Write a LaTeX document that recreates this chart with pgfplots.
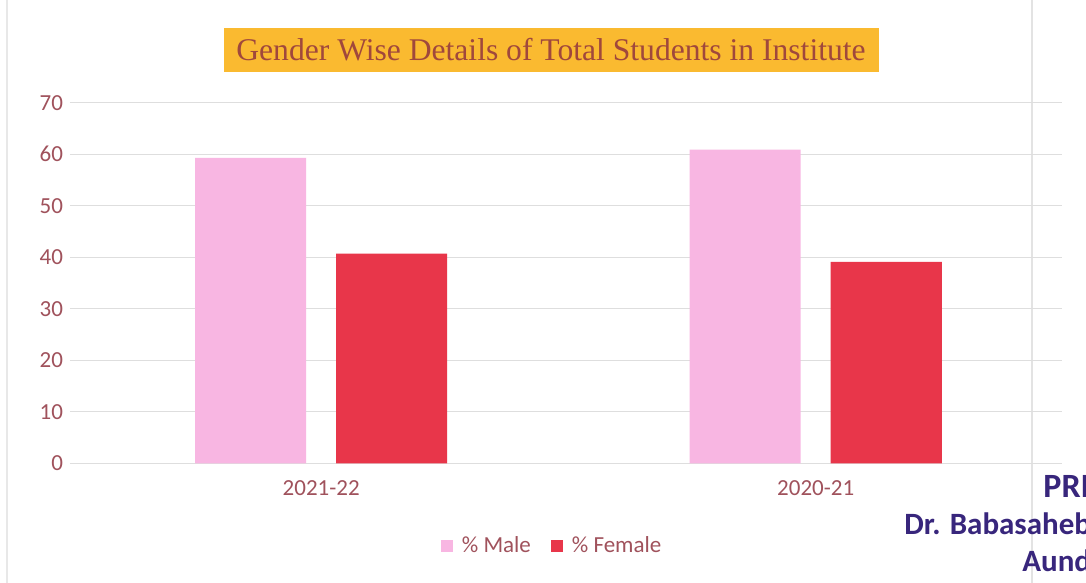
\documentclass[border=0pt]{standalone}
\usepackage{pgfplots}
\pgfplotsset{compat=1.18}
\usepackage{fontspec}
\setmainfont{Carlito}
\newfontfamily\titlefont{Liberation Serif}

\definecolor{malepink}{RGB}{248,182,226}
\definecolor{femalered}{RGB}{232,54,74}
\definecolor{ticktext}{RGB}{160,82,92}
\definecolor{titlebg}{RGB}{250,186,48}
\definecolor{titletext}{RGB}{160,72,60}
\definecolor{stamp}{RGB}{56,38,124}
\definecolor{gridgray}{RGB}{222,222,222}

\begin{document}
\begin{tikzpicture}
\useasboundingbox (0,0) rectangle (543pt,291.5pt);
\fill[white] (0,0) rectangle (543pt,291.5pt);
% faint borders of the scanned page
\draw[gray!18, line width=0.6pt] (3.5pt,0) -- (3.5pt,291.5pt);
\draw[gray!22, line width=0.6pt] (516pt,0) -- (516pt,291.5pt);
\begin{axis}[
  at={(35pt,59.85pt)}, anchor=south west,
  scale only axis, width=496pt, height=180.3pt,
  xmin=-0.508, xmax=1.498, ymin=0, ymax=70,
  xtick={0,1}, xticklabels={2021-22,2020-21},
  ytick={0,10,...,70},
  ymajorgrids, grid style={gridgray, line width=0.6pt},
  axis line style={draw=none},
  tick style={draw=none},
  major tick length=0pt,
  tick label style={font=\fontsize{11.5}{13}\selectfont, text=ticktext},
  xticklabel style={yshift=-5pt},
  /pgf/number format/assume math mode=true,
  legend style={at={(axis description cs:0.487,-0.23)}, anchor=center,
    draw=none, fill=none, legend columns=-1,
    font=\fontsize{11.5}{13}\selectfont, text=ticktext,
    /tikz/every odd column/.append style={column sep=2.5pt},
    /tikz/every even column/.append style={column sep=8pt}},
  legend image code/.code={\fill[#1] (0pt,-3pt) rectangle (6pt,3pt);},
]
\addplot[ybar, bar width=0.2245, bar shift=-0.1426, fill=malepink, draw=none]
  coordinates {(0,59.3) (1,60.9)};
\addplot[ybar, bar width=0.2245, bar shift=0.1426, fill=femalered, draw=none]
  coordinates {(0,40.7) (1,39.1)};
\legend{\% Male, \% Female}
\end{axis}

\node[fill=titlebg, text=titletext, font=\titlefont\fontsize{15.8}{18}\selectfont,
  minimum width=327.5pt, minimum height=22pt, inner sep=0pt]
  at (275.5pt,266.5pt) {Gender Wise Details of Total Students in Institute};

% stamp partly visible at the bottom right
\node[anchor=base west, text=stamp, font=\bfseries\fontsize{17}{20}\selectfont, inner sep=0pt]
  at (521.5pt,42.5pt) {PRI};
\node[anchor=base west, text=stamp, font=\bfseries\fontsize{15.5}{18}\selectfont, inner sep=0pt]
  at (452pt,24pt) {Dr. Babasaheb};
\node[anchor=base west, text=stamp, font=\bfseries\fontsize{15.5}{18}\selectfont, inner sep=0pt]
  at (511pt,5.5pt) {Aund};
\end{tikzpicture}
\end{document}
